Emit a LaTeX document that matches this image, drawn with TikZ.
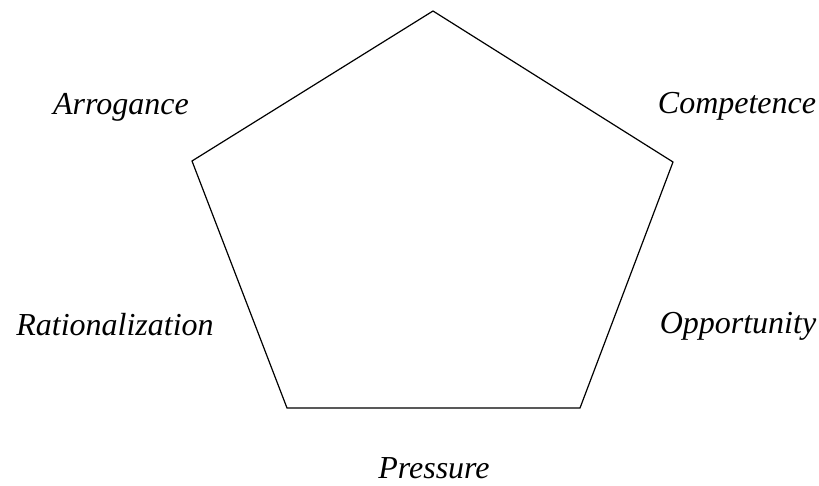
\documentclass[tikz,border=0pt]{standalone}
\usepackage{fontspec}
\setmainfont{Liberation Serif}
\begin{document}
\begin{tikzpicture}[x=1pt,y=-1pt,
  lbl/.style={font=\fontsize{32}{38}\selectfont\itshape, anchor=base, inner sep=0pt},
  edge/.style={draw=black, line width=1.2pt, line join=miter}]
\useasboundingbox (0,0) rectangle (819,486);
\coordinate (top) at (433,11);
\coordinate (right) at (673,162);
\coordinate (br) at (580,408);
\coordinate (bl) at (287,408);
\coordinate (left) at (192,161);
\draw[edge] (top) -- (right) -- (br) -- (bl) -- (left) -- cycle;
\node[lbl] (arr) at (121,115) {Arrogance};
\node[lbl] (comp) at (737,114) {Competence};
\node[lbl] (rat) at (115,335) {Rationalization};
\node[lbl] (opp) at (738,334) {Opportunity};
\node[lbl] (pres) at (434,478) {Pressure};
\end{tikzpicture}
\end{document}
